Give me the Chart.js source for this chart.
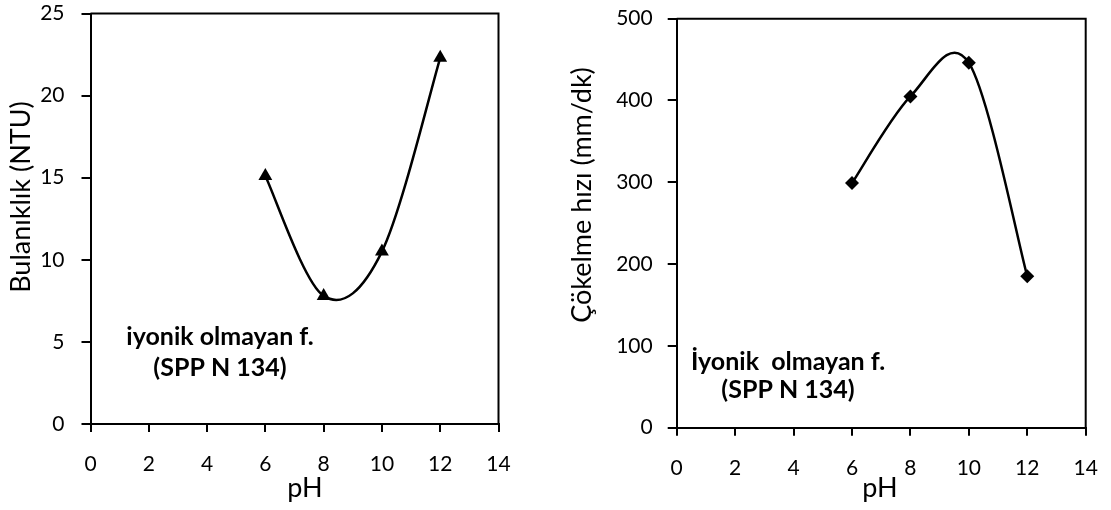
<!DOCTYPE html>
<html><head><meta charset="utf-8">
<script src="https://cdn.jsdelivr.net/npm/chart.js@4.4.1/dist/chart.umd.min.js"></script>
<style>
html,body{margin:0;padding:0;background:#fff;width:1111px;height:510px;overflow:hidden}
.box{position:absolute;top:0;height:510px}
#b1{left:0;width:555px}
#b2{left:555px;width:556px}
</style></head><body>
<div class="box" id="b1"><canvas id="c1"></canvas></div>
<div class="box" id="b2"><canvas id="c2"></canvas></div>
<script>
const phValues = [6, 8, 10, 12];
const turbidity = [15.1, 7.8, 10.5, 22.3];
const settlingRate = [299, 405, 446, 185];
const xAxisTitle = 'pH';
const leftYTitle = 'Bulanıklık (NTU)';
const rightYTitle = 'Çökelme hızı (mm/dk)';
const leftNote = ['iyonik olmayan f.', '(SPP N 134)'];
const rightNote = ['İyonik  olmayan f.', '(SPP N 134)'];

const FONT = 'Lato';

// Excel-like smoothing (uniform Catmull-Rom) applied to the library's own point positions
const smooth = {
  id: 'smooth',
  beforeDatasetsDraw(chart) {
    chart.data.datasets.forEach((ds, i) => {
      const meta = chart.getDatasetMeta(i);
      const line = meta.dataset, pts = meta.data;
      if (line && line.updateControlPoints) line.updateControlPoints(chart.chartArea, 'x');
      const n = pts.length;
      for (let k = 0; k < n; k++) {
        const p = pts[k];
        const prev = pts[Math.max(0, k - 1)];
        const next = pts[Math.min(n - 1, k + 1)];
        const dx = (next.x - prev.x) / 6, dy = (next.y - prev.y) / 6;
        p.cp1x = p.x - dx; p.cp1y = p.y - dy;
        p.cp2x = p.x + dx; p.cp2y = p.y + dy;
      }
      if (line) { line._pointsUpdated = true; line._path = undefined; }
    });
  }
};

const extras = {
  id: 'extras',
  afterDraw(chart, args, o) {
    const ctx = chart.ctx, a = chart.chartArea;
    ctx.save();
    ctx.strokeStyle = '#000';
    ctx.lineWidth = 2;
    ctx.beginPath();
    ctx.moveTo(a.left, a.top); ctx.lineTo(a.right, a.top); ctx.lineTo(a.right, a.bottom);
    ctx.stroke();
    ctx.fillStyle = '#000';
    ctx.textAlign = 'center';
    ctx.textBaseline = 'middle';
    ctx.font = `27px ${FONT}`;
    ctx.fillText(o.xTitle.text, o.xTitle.x, o.xTitle.y);
    ctx.save();
    ctx.translate(o.yTitle.x, o.yTitle.y);
    ctx.rotate(-Math.PI / 2);
    ctx.fillText(o.yTitle.text, 0, 0);
    ctx.restore();
    ctx.font = `bold 25px ${FONT}`;
    o.notes.forEach(n => ctx.fillText(n.text, n.x, n.y));
    ctx.restore();
  }
};

function zeroPad(s) { s.paddingTop = 0; s.paddingBottom = 0; s.paddingLeft = 0; s.paddingRight = 0; }

function makeChart(id, ys, cfg) {
  const data = phValues.map((x, i) => ({x, y: ys[i]}));
  return new Chart(document.getElementById(id), {
    type: 'line',
    data: { datasets: [{
      data,
      borderColor: '#000', borderWidth: 2.5,
      backgroundColor: '#000',
      pointStyle: cfg.pointStyle, pointRadius: cfg.pointRadius,
      pointBorderWidth: 0,
      tension: 0.4, fill: false
    }]},
    options: {
      responsive: true, maintainAspectRatio: false, animation: false,
      devicePixelRatio: 1,
      layout: { padding: cfg.padding },
      plugins: { legend: {display:false}, tooltip: {enabled:false},
        extras: cfg.extras },
      scales: {
        x: {
          type: 'linear', min: 0, max: 14,
          ticks: { stepSize: 2, color: '#000', font: {family: FONT, size: 21}, padding: cfg.xPad, maxRotation: 0 },
          grid: { drawOnChartArea: false, drawTicks: true, tickLength: 8, color: '#000', lineWidth: 2 },
          border: { color: '#000', width: 2 },
          afterFit: s => { s.height = cfg.xH; zeroPad(s); }
        },
        y: {
          min: 0, max: cfg.yMax,
          ticks: { stepSize: cfg.yStep, color: '#000', font: {family: FONT, size: 21}, padding: cfg.yPad },
          grid: { drawOnChartArea: false, drawTicks: true, tickLength: 9, color: '#000', lineWidth: 2 },
          border: { color: '#000', width: 2 },
          afterFit: s => { s.width = cfg.yW; zeroPad(s); }
        }
      }
    },
    plugins: [smooth, extras]
  });
}

makeChart('c1', turbidity, {
  pointStyle: 'triangle', pointRadius: 8,
  padding: {left: 0, right: 56.5, top: 13.5, bottom: 0},
  xH: 86, yW: 90.5, xPad: 20, yPad: 17, yMax: 25, yStep: 5,
  extras: {
    xTitle: {text: xAxisTitle, x: 305, y: 488},
    yTitle: {text: leftYTitle, x: 21, y: 197},
    notes: [{text: leftNote[0], x: 220, y: 337}, {text: leftNote[1], x: 220, y: 368}]
  }
});

makeChart('c2', settlingRate, {
  pointStyle: 'rectRot', pointRadius: 7,
  padding: {left: 0, right: 25.3, top: 18.7, bottom: 0},
  xH: 82.3, yW: 121.7, xPad: 20, yPad: 15, yMax: 500, yStep: 100,
  extras: {
    xTitle: {text: xAxisTitle, x: 880 - 555, y: 488},
    yTitle: {text: rightYTitle, x: 582 - 555, y: 195},
    notes: [{text: rightNote[0], x: 788 - 555, y: 362}, {text: rightNote[1], x: 788 - 555, y: 390}]
  }
});
</script>
</body></html>
